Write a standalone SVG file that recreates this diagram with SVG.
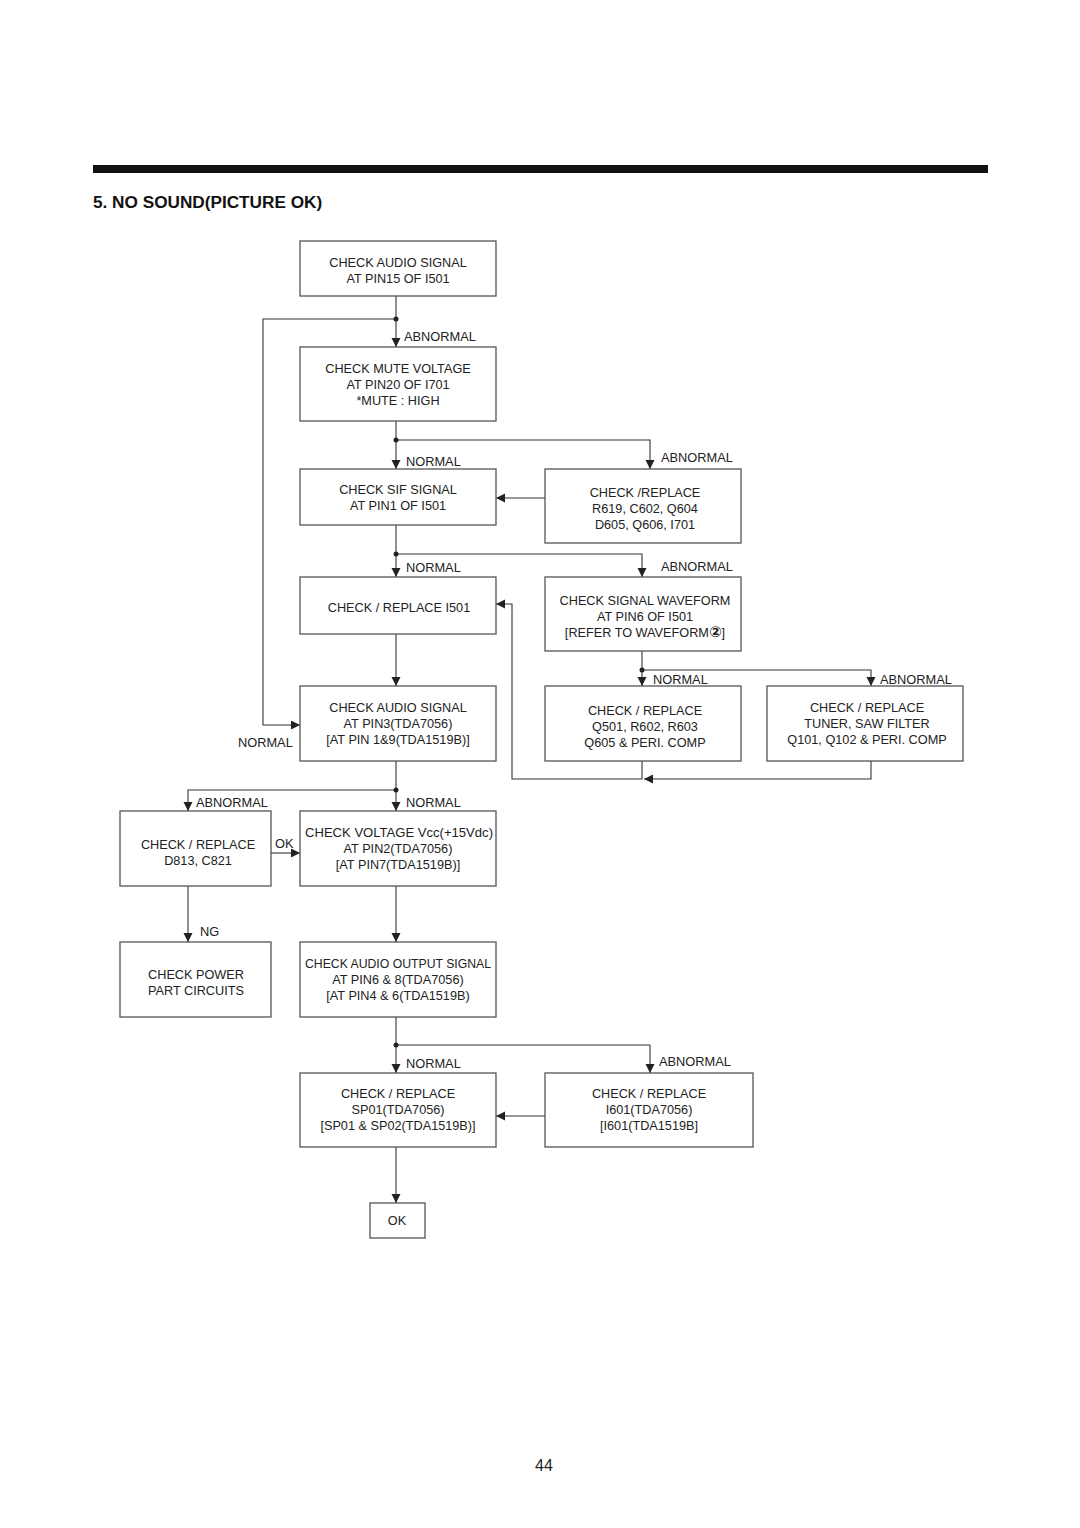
<svg xmlns="http://www.w3.org/2000/svg" width="1080" height="1528" viewBox="0 0 1080 1528">
<style>
.box{fill:#fff;stroke:#555;stroke-width:1.3}
.t{font-family:"Liberation Sans",Arial,sans-serif;font-size:12.7px;fill:#222;text-anchor:middle}
.l{font-family:"Liberation Sans",Arial,sans-serif;font-size:12.8px;fill:#222}
.c{fill:none;stroke:#333;stroke-width:1.1}
.d{fill:#222}
</style>
<defs>
<marker id="ah" markerUnits="userSpaceOnUse" markerWidth="10" markerHeight="10" refX="9" refY="4.5" orient="auto">
<path d="M0,0 L9,4.5 L0,9 z" fill="#222"/>
</marker>
</defs>
<rect width="1080" height="1528" fill="#fff"/>
<rect x="93" y="165" width="895" height="8" fill="#111"/>
<text x="93" y="208" style="font-family:'Liberation Sans',Arial,sans-serif;font-size:17.2px;font-weight:bold;fill:#111">5. NO SOUND(PICTURE OK)</text>

<g id="connectors">
<path class="c" d="M396,296 V347" marker-end="url(#ah)"/>
<path class="c" d="M396,319 H263 V725 H300" marker-end="url(#ah)"/>
<path class="c" d="M396,421 V469" marker-end="url(#ah)"/>
<path class="c" d="M396,440 H650 V469" marker-end="url(#ah)"/>
<path class="c" d="M545,498 H496" marker-end="url(#ah)"/>
<path class="c" d="M396,525 V577" marker-end="url(#ah)"/>
<path class="c" d="M396,554 H642 V577" marker-end="url(#ah)"/>
<path class="c" d="M396,634 V686" marker-end="url(#ah)"/>
<path class="c" d="M642,651 V686" marker-end="url(#ah)"/>
<path class="c" d="M642,670 H871 V686" marker-end="url(#ah)"/>
<path class="c" d="M642,761 V779 H512 V604 H496" marker-end="url(#ah)"/>
<path class="c" d="M871,761 V779 H644" marker-end="url(#ah)"/>
<path class="c" d="M396,761 V811" marker-end="url(#ah)"/>
<path class="c" d="M396,790 H188 V811" marker-end="url(#ah)"/>
<path class="c" d="M271,853 H300" marker-end="url(#ah)"/>
<path class="c" d="M188,886 V942" marker-end="url(#ah)"/>
<path class="c" d="M396,886 V942" marker-end="url(#ah)"/>
<path class="c" d="M396,1017 V1073" marker-end="url(#ah)"/>
<path class="c" d="M396,1045 H650 V1073" marker-end="url(#ah)"/>
<path class="c" d="M545,1116 H496" marker-end="url(#ah)"/>
<path class="c" d="M396,1147 V1203" marker-end="url(#ah)"/>
<circle class="d" cx="396" cy="319" r="2.5"/>
<circle class="d" cx="396" cy="440" r="2.5"/>
<circle class="d" cx="396" cy="554" r="2.5"/>
<circle class="d" cx="642" cy="670" r="2.5"/>
<circle class="d" cx="396" cy="790" r="2.5"/>
<circle class="d" cx="396" cy="1045" r="2.5"/>
<text class="l" x="404" y="341">ABNORMAL</text>
<text class="l" x="406" y="466">NORMAL</text>
<text class="l" x="661" y="462">ABNORMAL</text>
<text class="l" x="406" y="572">NORMAL</text>
<text class="l" x="661" y="571">ABNORMAL</text>
<text class="l" x="653" y="684">NORMAL</text>
<text class="l" x="880" y="684">ABNORMAL</text>
<text class="l" x="238" y="747">NORMAL</text>
<text class="l" x="196" y="807">ABNORMAL</text>
<text class="l" x="406" y="807">NORMAL</text>
<text class="l" x="275" y="848">OK</text>
<text class="l" x="200" y="936">NG</text>
<text class="l" x="406" y="1068">NORMAL</text>
<text class="l" x="659" y="1066">ABNORMAL</text>
</g>

<g id="n1"><rect class="box" x="300" y="241" width="196" height="55"/>
<text class="t" x="398" y="267">CHECK AUDIO SIGNAL</text><text class="t" x="398" y="283">AT PIN15 OF I501</text></g>
<g id="n2"><rect class="box" x="300" y="347" width="196" height="74"/>
<text class="t" x="398" y="373">CHECK MUTE VOLTAGE</text><text class="t" x="398" y="389">AT PIN20 OF I701</text><text class="t" x="398" y="405">*MUTE : HIGH</text></g>
<g id="n3"><rect class="box" x="300" y="469" width="196" height="56"/>
<text class="t" x="398" y="494">CHECK SIF SIGNAL</text><text class="t" x="398" y="510">AT PIN1 OF I501</text></g>
<g id="n4"><rect class="box" x="545" y="469" width="196" height="74"/>
<text class="t" x="645" y="497">CHECK /REPLACE</text><text class="t" x="645" y="513">R619, C602, Q604</text><text class="t" x="645" y="529">D605, Q606, I701</text></g>
<g id="n5"><rect class="box" x="300" y="577" width="196" height="57"/>
<text class="t" x="399" y="612">CHECK / REPLACE I501</text></g>
<g id="n6"><rect class="box" x="545" y="577" width="196" height="74"/>
<text class="t" x="645" y="605">CHECK SIGNAL WAVEFORM</text><text class="t" x="645" y="621">AT PIN6 OF I501</text><text class="t" x="645" y="637">[REFER TO WAVEFORM<tspan font-weight="bold" font-size="15px" font-family="DejaVu Sans, sans-serif">②</tspan>]</text></g>
<g id="n7"><rect class="box" x="300" y="686" width="196" height="75"/>
<text class="t" x="398" y="712">CHECK AUDIO SIGNAL</text><text class="t" x="398" y="728">AT PIN3(TDA7056)</text><text class="t" x="398" y="744">[AT PIN 1&amp;9(TDA1519B)]</text></g>
<g id="n8"><rect class="box" x="545" y="686" width="196" height="75"/>
<text class="t" x="645" y="715">CHECK / REPLACE</text><text class="t" x="645" y="731">Q501, R602, R603</text><text class="t" x="645" y="747">Q605 &amp; PERI. COMP</text></g>
<g id="n9"><rect class="box" x="767" y="686" width="196" height="75"/>
<text class="t" x="867" y="712">CHECK / REPLACE</text><text class="t" x="867" y="728">TUNER, SAW FILTER</text><text class="t" x="867" y="744">Q101, Q102 &amp; PERI. COMP</text></g>
<g id="n10"><rect class="box" x="120" y="811" width="151" height="75"/>
<text class="t" x="198" y="849">CHECK / REPLACE</text><text class="t" x="198" y="865">D813, C821</text></g>
<g id="n11"><rect class="box" x="300" y="811" width="196" height="75"/>
<text class="t" x="399" y="837" textLength="188" lengthAdjust="spacingAndGlyphs">CHECK VOLTAGE Vcc(+15Vdc)</text><text class="t" x="398" y="853">AT PIN2(TDA7056)</text><text class="t" x="398" y="869">[AT PIN7(TDA1519B)]</text></g>
<g id="n12"><rect class="box" x="120" y="942" width="151" height="75"/>
<text class="t" x="196" y="979">CHECK POWER</text><text class="t" x="196" y="995">PART CIRCUITS</text></g>
<g id="n13"><rect class="box" x="300" y="942" width="196" height="75"/>
<text class="t" x="398" y="968" textLength="186" lengthAdjust="spacingAndGlyphs">CHECK AUDIO OUTPUT SIGNAL</text><text class="t" x="398" y="984">AT PIN6 &amp; 8(TDA7056)</text><text class="t" x="398" y="1000">[AT PIN4 &amp; 6(TDA1519B)</text></g>
<g id="n14"><rect class="box" x="300" y="1073" width="196" height="74"/>
<text class="t" x="398" y="1098">CHECK / REPLACE</text><text class="t" x="398" y="1114">SP01(TDA7056)</text><text class="t" x="398" y="1130">[SP01 &amp; SP02(TDA1519B)]</text></g>
<g id="n15"><rect class="box" x="545" y="1073" width="208" height="74"/>
<text class="t" x="649" y="1098">CHECK / REPLACE</text><text class="t" x="649" y="1114">I601(TDA7056)</text><text class="t" x="649" y="1130">[I601(TDA1519B]</text></g>
<g id="n16"><rect class="box" x="370" y="1203" width="55" height="35"/>
<text class="t" x="397" y="1225">OK</text></g>
<text x="544" y="1471" style="font-family:'Liberation Sans',Arial,sans-serif;font-size:16px;fill:#222;text-anchor:middle">44</text>
</svg>
